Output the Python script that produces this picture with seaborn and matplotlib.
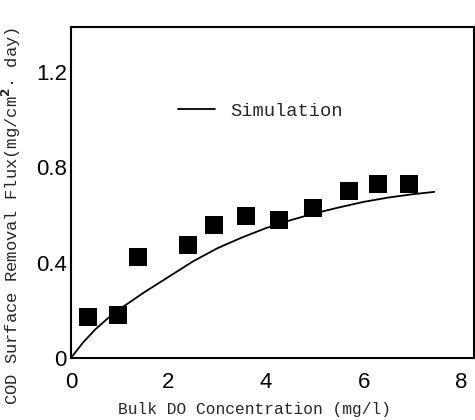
import matplotlib
matplotlib.use("Agg")
import matplotlib.pyplot as plt
import seaborn as sns
import pandas as pd

# Measured data (squares)
do_meas = [0.35, 0.96, 1.37, 2.4, 2.93, 3.59, 4.27, 4.96, 5.7, 6.3, 6.93]
flux_meas = [0.17, 0.18, 0.425, 0.476, 0.556, 0.594, 0.58, 0.63, 0.70, 0.73, 0.73]

# Simulation curve
do_sim = [0, 0.25, 0.5, 0.75, 1, 1.5, 2, 2.5, 3, 3.5, 4, 4.5, 5, 5.5, 6, 6.5, 7, 7.45]
flux_sim = [0, 0.065, 0.12, 0.165, 0.205, 0.275, 0.34, 0.405, 0.46, 0.505, 0.545,
            0.578, 0.607, 0.632, 0.655, 0.673, 0.687, 0.697]

xticks = [0, 2, 4, 6, 8]
yticks = [0, 0.4, 0.8, 1.2]
yticklabels = ["0", "0.4", "0.8", "1.2"]

sns.set_style("white")
plt.rcParams['font.family'] = ['Liberation Sans', 'DejaVu Sans']

fig = plt.figure(figsize=(4.75, 4.2), dpi=100)
ax = fig.add_axes([0.1495, 0.148, 0.849, 0.788])

df_m = pd.DataFrame({"x": do_meas, "y": flux_meas})
df_s = pd.DataFrame({"x": do_sim, "y": flux_sim})

sns.lineplot(data=df_s, x="x", y="y", ax=ax, color="black", lw=1.3, label="Simulation")
sns.scatterplot(data=df_m, x="x", y="y", ax=ax, marker="s", s=150, color="black",
                edgecolor="black", linewidth=0, legend=False)

ax.set_xlim(0, 8.27)
ax.set_ylim(0, 1.39)
ax.set_xticks(xticks)
ax.set_xticklabels([str(t) for t in xticks])
ax.set_yticks(yticks)
ax.set_yticklabels(yticklabels)
ax.tick_params(axis="both", direction="in", length=6, width=1.5, labelsize=16,
               colors="black", pad=3)
ax.tick_params(axis="x", pad=10)
for sp in ax.spines.values():
    sp.set_color("black")
    sp.set_linewidth(1.5)

mono = ['Liberation Mono', 'DejaVu Sans Mono']
ax.set_xlabel("Bulk DO Concentration (mg/l)", family=mono, fontsize=11.7)
ax.xaxis.set_label_coords(0.454, -0.133)
ax.set_ylabel("COD Surface Removal Flux(mg/cm$^{\\mathbf{2}}$\u00b7 day)", family=mono,
              fontsize=12.3)
ax.yaxis.set_label_coords(-0.12, 0.43)

leg = ax.legend(loc="center left", bbox_to_anchor=(0.265, 0.745), frameon=False,
                handlelength=2.0, handletextpad=0.8, borderpad=0, borderaxespad=0,
                prop={"family": mono, "size": 13.5})

fig.savefig("out.png", dpi=100)
